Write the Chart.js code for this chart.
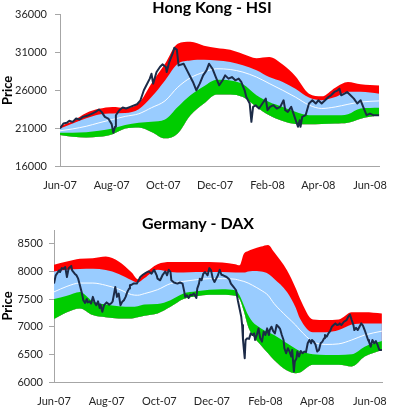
<!DOCTYPE html>
<html>
<head>
<meta charset="utf-8">
<script src="https://cdn.jsdelivr.net/npm/chart.js@4.4.1/dist/chart.umd.min.js"></script>
<style>
html,body{margin:0;padding:0;background:#fff;}
#wrap{position:relative;width:400px;height:411px;overflow:hidden;}
canvas{position:absolute;left:0;}
#c1{top:0;}
#c2{top:205px;}
</style>
</head>
<body>
<div id="wrap">
<canvas id="c1" width="400" height="205" style="width:400px;height:205px"></canvas>
<canvas id="c2" width="400" height="206" style="width:400px;height:206px"></canvas>
</div>
<script>
// ---- shared x axis (days since 1 Jun 2007) ----
const xTickDays = [0, 61, 122, 183, 245, 305, 366];
const xTickLabels = ['Jun-07', 'Aug-07', 'Oct-07', 'Dec-07', 'Feb-08', 'Apr-08', 'Jun-08'];

// ---- Hong Kong - HSI ----
const hsiYTicks = [16000, 21000, 26000, 31000, 36000];
const hsiBandDays = [0,15,31,46,62,77,93,108,124,139,154,170,185,201,216,232,247,263,278,294,309,325,340,355,377];
const hsiUpperOuter = [21250,21950,23000,23550,23800,23700,24300,26900,29500,32150,32400,31900,31600,31350,30800,30250,30400,29400,27850,25550,25200,26350,27100,26800,26650];
const hsiUpperInner = [20950,21600,22300,22800,22950,23000,23500,25100,27300,29500,29950,30050,29950,29750,29300,28650,27750,27100,26200,25050,24700,25100,25800,25800,25550];
const hsiMiddle     = [20650,20900,21250,21700,22150,22550,22900,23700,24600,26400,27650,28400,28850,28750,28400,27750,26900,26000,25100,24050,23600,23800,24150,24450,24600];
const hsiLowerInner = [20400,20400,20450,20650,20950,21400,21700,21850,22150,23800,25350,26550,27400,27300,26800,25350,24450,23800,23150,22700,22700,22700,22850,23600,23700];
const hsiLowerOuter = [20100,19850,19750,19850,20200,20950,21100,20500,19650,20300,22700,24250,25450,25450,25100,23800,22700,21950,21550,21500,21550,21600,21700,22250,22700];
const hsiPriceDays = [0,4,8,11,15,19,23,27,30,34,38,42,46,49,53,57,61,63,65,66,70,74,78,83,91,95,99,102,106,108,110,114,118,121,125,126,129,133,135,138,140,146,150,154,157,161,165,169,173,176,180,184,188,192,195,199,203,207,211,214,218,220,224,226,228,231,235,239,243,245,248,252,256,260,264,266,269,273,277,281,283,284,286,290,294,298,302,305,309,313,317,320,324,328,330,332,336,339,343,347,351,355,358,362,366,370,377];
const hsiPrice = [20960,21610,21700,21970,21830,22270,22140,22490,22580,22710,22930,23150,23460,23150,22490,22270,21530,20390,21180,22710,23370,23720,23590,23810,24160,24680,26000,26660,27540,28190,26880,28410,29070,29420,29070,28410,29730,30830,31610,31350,29290,29510,28630,27750,27100,26000,26880,27970,28630,29510,28850,27750,26660,27320,27970,27540,27750,27320,27540,27100,26000,25120,24250,21830,23810,24030,23590,24250,24900,23370,23810,24030,23590,23810,24680,23370,23150,23810,22490,21180,22050,21180,22490,22710,24250,24680,24250,24680,24250,24680,25120,25340,25780,26000,26220,25340,25560,25780,25340,24900,24250,24680,23810,22710,22930,22710,22710];

// ---- Germany - DAX ----
const daxYTicks = [6000, 6500, 7000, 7500, 8000, 8500];
const daxBandDays = [0,15,30,45,60,75,90,97,105,120,135,150,165,180,195,210,215,220,225,230,240,248,255,270,280,285,300,315,330,345,360,380];
const daxUpperOuter = [8120,8180,8230,8240,8270,8180,7980,7860,7960,8130,8170,8170,8170,8170,8160,8130,8110,8320,8370,8400,8450,8480,8350,8020,7700,7510,7130,7120,7130,7260,7260,7240];
const daxUpperInner = [8000,8030,8045,8050,8025,7955,7840,7800,7880,8030,7990,7980,7990,7990,7990,7980,7980,7980,8000,8010,8000,7960,7870,7630,7350,7150,6900,6900,6940,7040,7060,7060];
const daxMiddle     = [7630,7730,7790,7790,7750,7680,7580,7570,7600,7670,7780,7820,7850,7870,7870,7860,7840,7820,7790,7750,7660,7570,7420,7180,7030,6940,6730,6680,6690,6760,6850,6920];
const daxLowerInner = [7500,7560,7630,7460,7400,7370,7360,7370,7400,7410,7480,7600,7640,7670,7680,7660,7570,7390,7210,7090,6970,6900,6850,6700,6600,6560,6500,6490,6490,6500,6640,6740];
const daxLowerOuter = [7140,7260,7330,7210,7170,7150,7150,7170,7200,7240,7360,7500,7550,7580,7580,7560,7500,7280,7000,6850,6660,6520,6400,6210,6160,6170,6310,6310,6310,6280,6460,6580];
const daxPriceDays = [0,2,6,7,9,11,13,15,17,20,21,24,26,28,30,32,34,36,38,39,41,43,45,47,49,51,53,54,56,58,61,64,66,68,70,71,73,75,77,79,81,83,85,87,88,90,92,96,100,103,105,108,110,113,116,119,120,123,126,129,131,133,135,136,139,143,146,149,151,152,154,156,158,160,162,165,166,168,169,171,173,175,178,180,182,184,186,188,190,192,194,196,200,203,205,208,211,213,215,217,218,219,221,222,224,226,228,230,232,233,235,237,239,241,243,245,247,249,250,252,254,256,258,260,262,264,266,267,269,271,273,275,276,278,279,281,282,284,286,288,290,292,294,296,298,299,301,303,305,307,309,311,313,314,316,318,320,322,324,326,328,330,331,333,336,339,341,343,345,347,348,350,352,354,356,358,360,362,364,365,367,369,371,373,375,377,380];
const daxPrice = [7780,7930,8020,7990,8060,8050,8080,7900,8060,8100,8020,7960,7930,7870,7750,7630,7480,7430,7500,7440,7460,7420,7540,7440,7390,7460,7340,7400,7270,7390,7440,7400,7420,7460,7630,7720,7540,7600,7390,7450,7480,7540,7630,7690,7750,7760,7780,7780,7900,7940,7960,7990,8000,7960,8030,7930,7870,7840,7940,8000,7930,8030,7990,7840,7800,7780,7800,7780,7630,7540,7570,7520,7580,7570,7600,7520,7690,7780,7870,7840,7960,7990,7930,8060,8020,7870,7810,7870,7930,8030,7940,7930,7900,7860,7780,7720,7660,7480,7330,7180,7030,6760,6430,6760,6790,6780,6880,6850,6880,6760,6850,6970,6790,6730,6910,6850,6970,6850,6940,7000,6920,6880,7030,7000,6960,6850,6760,6610,6520,6610,6550,6460,6580,6190,6370,6430,6550,6460,6560,6520,6550,6540,6700,6760,6700,6760,6730,6680,6550,6580,6700,6730,6790,6850,6820,6880,6920,7000,7030,7060,7030,7040,7060,7030,7090,7120,7180,7220,7120,7030,6940,6980,6940,7000,7060,7020,6940,6850,6760,6730,6640,6760,6700,6740,6670,6580,6580];

// ---- styling ----
const FONT = 'Lato, "Open Sans", "DejaVu Sans", sans-serif';
const RED = '#FF0000', BLUE = '#99CCFF', GREEN = '#00CC00', NAVY = '#1C2B47';
const AXIS = '#A6A6A6', TXT = '#262626';

function pts(days, vals) { return days.map((d, i) => ({ x: d, y: vals[i] })); }

const titlePlugin = {
  id: 'ttl',
  afterDraw(chart, args, opts) {
    const ctx = chart.ctx;
    ctx.save();
    ctx.font = 'bold 16px ' + FONT;
    ctx.fillStyle = '#000';
    ctx.textAlign = 'center';
    ctx.textBaseline = 'alphabetic';
    ctx.fillText(opts.text, opts.x, opts.y);
    ctx.restore();
  }
};

function makeChart(id, cfg) {
  const band = (vals, color, order) => ({
    data: pts(cfg.bandDays, vals),
    fill: color ? { target: 4 } : false,
    backgroundColor: color || 'rgba(0,0,0,0)',
    borderColor: 'rgba(0,0,0,0)',
    borderWidth: 0,
    pointRadius: 0,
    cubicInterpolationMode: 'monotone',
    order: order
  });
  const datasets = [
    band(cfg.uo, RED, 5),
    band(cfg.ui, BLUE, 4),
    { data: pts(cfg.bandDays, cfg.mid), fill: false, borderColor: 'rgba(255,255,255,0.95)', borderWidth: 1,
      pointRadius: 0, cubicInterpolationMode: 'monotone', order: 2 },
    band(cfg.li, GREEN, 3),
    band(cfg.lo, null, 6),
    { data: pts(cfg.priceDays, cfg.price), fill: false, borderColor: NAVY, borderWidth: 2,
      pointRadius: 0, tension: 0, borderJoinStyle: 'round', order: 0 }
  ];
  return new Chart(document.getElementById(id), {
    type: 'line',
    data: { datasets },
    plugins: [titlePlugin],
    options: {
      responsive: false,
      animation: false,
      events: [],
      layout: { padding: cfg.padding },
      plugins: {
        legend: { display: false },
        tooltip: { enabled: false },
        ttl: cfg.title
      },
      scales: {
        x: {
          type: 'linear', min: 0, max: cfg.xMax,
          afterBuildTicks: s => { s.ticks = xTickDays.map(v => ({ value: v })); },
          afterFit: s => { s.height = cfg.xHeight; },
          ticks: {
            autoSkip: false, maxRotation: 0, minRotation: 0, padding: cfg.xPad,
            color: TXT, font: { family: FONT, size: 11 },
            callback: v => { const i = xTickDays.indexOf(v); return i >= 0 ? xTickLabels[i] : ''; }
          },
          grid: { display: true, drawOnChartArea: false, drawTicks: false, color: AXIS },
          border: { display: true, color: AXIS, width: 1 }
        },
        y: {
          type: 'linear', min: cfg.yMin, max: cfg.yMax,
          afterBuildTicks: s => { s.ticks = cfg.yTicks.map(v => ({ value: v })); },
          afterFit: s => { s.width = cfg.yWidth; },
          ticks: {
            padding: cfg.yPad, color: TXT, font: { family: FONT, size: 11 },
            callback: v => String(v)
          },
          grid: { display: true, drawOnChartArea: false, drawTicks: true, tickLength: 5, color: AXIS },
          border: { display: true, color: AXIS, width: 1 },
          title: { display: true, text: 'Price', color: '#000', padding: 0,
                   font: { family: FONT, size: 13, weight: 'bold' } }
        }
      }
    }
  });
}

makeChart('c1', {
  bandDays: hsiBandDays, uo: hsiUpperOuter, ui: hsiUpperInner, mid: hsiMiddle, li: hsiLowerInner, lo: hsiLowerOuter,
  priceDays: hsiPriceDays, price: hsiPrice,
  yMin: 16000, yMax: 36000, yTicks: hsiYTicks, xMax: 377,
  padding: { top: 14, right: 8, bottom: 0, left: 0 },
  xHeight: 39, yWidth: 60, xPad: 13, yPad: 8,
  title: { text: 'Hong Kong - HSI', x: 212, y: 13 }
});

makeChart('c2', {
  bandDays: daxBandDays, uo: daxUpperOuter, ui: daxUpperInner, mid: daxMiddle, li: daxLowerInner, lo: daxLowerOuter,
  priceDays: daxPriceDays, price: daxPrice,
  yMin: 6000, yMax: 8750, yTicks: daxYTicks, xMax: 381,
  padding: { top: 25, right: 9, bottom: 0, left: 0 },
  xHeight: 29, yWidth: 54, xPad: 13, yPad: 6,
  title: { text: 'Germany - DAX', x: 198, y: 24 }
});
</script>
</body>
</html>
